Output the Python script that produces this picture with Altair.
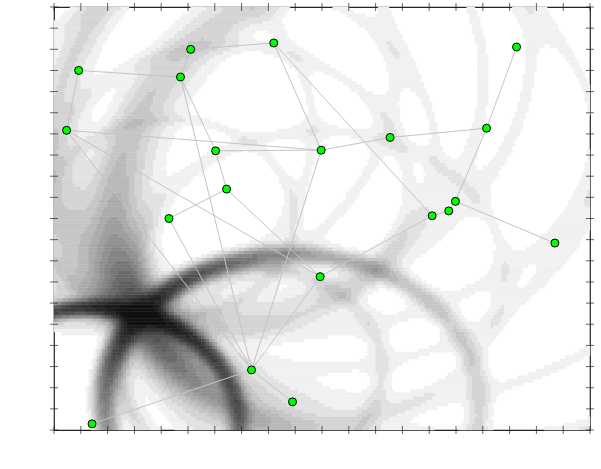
import numpy as np
import pandas as pd
import altair as alt

# ---- data ----
agent_x = [-9.08, -9.53, -5.28, -4.90, -1.80, 7.26, -3.97, -0.03, 2.54, 6.14,
           -3.56, -5.71, 4.11, 4.73, 4.98, 8.69, -0.07, -2.63, -1.10, -8.58]
agent_y = [7.00, 4.17, 6.69, 8.00, 8.30, 8.11, 3.20, 3.23, 3.83, 4.27,
           1.39, 0.00, 0.13, 0.36, 0.81, -1.16, -2.75, -7.16, -8.67, -9.71]
# rings seen in the background: radius, strength and width of each agent's ring
ring_radius = [11.8, 9.2, 11.3, 12.7, 13.8, 18.9, 8.2, 10.3, 12.5, 15.6,
               6.8, 4.7, 11.8, 12.5, 12.9, 15.8, 6.9, 4.9, 7.0, 5.5]
ring_dark = [0, 0, 0, 0, 0, 0, 0, 0, 0, 0.15,
             0.08, 0.08, 0.15, 0.15, 0.15, 0.15, 0.08, 0.3, 1.5, 2.2]
ring_width = [0.6, 0.6, 0.6, 0.6, 0.6, 0.6, 0.5, 0.5, 0.6, 0.7,
              0.45, 0.35, 0.7, 0.7, 0.7, 0.7, 0.45, 0.35, 0.3, 0.25]
ring_faint = 0.055
source_x = [-6.76]
source_y = [-4.55]
edge_a = [0, 0, 2, 3, 4, 4, 2, 2, 6, 6, 10, 10, 1, 1, 1, 11, 7, 7, 8, 9, 9, 14, 13, 14, 12, 16, 17, 17]
edge_b = [2, 1, 3, 4, 7, 12, 6, 17, 7, 10, 11, 16, 7, 16, 17, 17, 17, 8, 9, 5, 14, 13, 12, 15, 16, 17, 18, 19]
ticks = list(range(-10, 11))
frame_ends = [-10, 10]

# ---- background field built from the rings ----
sx, sy = 0.1, 0.16
cx = -10 + sx / 2 + sx * np.arange(int(round(20 / sx)))
cy = -10 + sy / 2 + sy * np.arange(int(round(20 / sy)))
X, Y = np.meshgrid(cx, cy)
ax_ = np.array(agent_x)[:, None, None]
ay_ = np.array(agent_y)[:, None, None]
r_ = np.array(ring_radius)[:, None, None]
w_ = np.array(ring_dark)[:, None, None]
s_ = np.array(ring_width)[:, None, None]
d = np.hypot(X - ax_, Y - ay_)
z = (d - r_) / s_
near = np.exp(-np.hypot(X - source_x[0], Y - source_y[0]) / 5.0)
f = near * (w_ * np.exp(-z ** 2 / 2)).sum(0)
f = f + ring_faint * np.exp(-((d - r_) / (0.04 * r_)) ** 2 / 2).sum(0)
zc = z / 1.3
f = f + 0.6 * np.exp(-(zc[19] ** 2 + zc[18] ** 2) / 2)
D = 1 - np.exp(-f)
level = np.floor(D * 20) / 20

# merge equal neighbours of each row into one cell
rows = []
for j in range(level.shape[0]):
    row = level[j]
    start = 0
    for i in range(1, len(row) + 1):
        if i == len(row) or row[i] != row[start]:
            if row[start] > 0:
                rows.append((round(cx[start] - sx / 2, 3), round(cx[i - 1] + sx / 2, 3),
                             round(cy[j] - sy / 2, 3), round(cy[j] + sy / 2, 3), float(row[start])))
            start = i
heat = pd.DataFrame(rows, columns=["x0", "x1", "y0", "y1", "level"])

edges = pd.DataFrame({
    "ex": [agent_x[i] for i in edge_a], "ey": [agent_y[i] for i in edge_a],
    "ex2": [agent_x[i] for i in edge_b], "ey2": [agent_y[i] for i in edge_b],
})
pts = pd.DataFrame({
    "px": agent_x + source_x, "py": agent_y + source_y,
    "kind": ["Agent"] * len(agent_x) + ["Source"] * len(source_x),
})
tick_df = pd.DataFrame([(t, e) for t in ticks for e in frame_ends], columns=["t", "e"])

FONT = "Liberation Serif"
xs = alt.Scale(domain=[-10, 10], nice=False, zero=False)
ys = alt.Scale(domain=[-10, 10], nice=False, zero=False)

def mk_axis(orient, title, tpad):
    return alt.Axis(orient=orient, values=ticks, ticks=False, domain=False, grid=False,
                    labelFont=FONT, labelFontSize=12.5, labelColor="black",
                    labelExpr="'' + datum.value", labelPadding=5, labelOverlap=False,
                    title=title, titleFont=FONT, titleFontSize=13.5,
                    titleColor="black", titlePadding=tpad)

gray = alt.Scale(domain=[0, 1], range=["#ffffff", "#000000"])
heat_layer = alt.Chart(heat).mark_rect(strokeWidth=0.5).encode(
    x=alt.X("x0:Q", scale=xs, axis=mk_axis("bottom", "x-position", 4)),
    x2="x1:Q",
    y=alt.Y("y0:Q", scale=ys, axis=mk_axis("left", "y-position", 11)),
    y2="y1:Q",
    fill=alt.Fill("level:Q", scale=gray, legend=None),
    stroke=alt.Stroke("level:Q", scale=gray, legend=None),
)

edge_layer = alt.Chart(edges).mark_rule(color="#c4c4c4", strokeWidth=1).encode(
    x=alt.X("ex:Q", scale=xs, axis=None), y=alt.Y("ey:Q", scale=ys, axis=None),
    x2="ex2:Q", y2="ey2:Q",
)

xtick_layer = alt.Chart(tick_df).mark_tick(orient="vertical", size=8, thickness=1,
                                           color="#222222", clip=True).encode(
    x=alt.X("t:Q", scale=xs, axis=None), y=alt.Y("e:Q", scale=ys, axis=None))
ytick_layer = alt.Chart(tick_df).mark_tick(orient="horizontal", size=8, thickness=1,
                                           color="#222222", clip=True).encode(
    y=alt.Y("t:Q", scale=ys, axis=None), x=alt.X("e:Q", scale=xs, axis=None))

leg = alt.Legend(title=None, orient="none", legendX=385, legendY=354,
                 strokeColor="black", fillColor="white", padding=5,
                 labelFont=FONT, labelFontSize=14, labelColor="black",
                 symbolOffset=10, labelOffset=14, rowPadding=1,
                 symbolSize=90, symbolStrokeColor="black", symbolStrokeWidth=0.8)
dom = ["Agent", "Source"]
is_agent = "datum.kind == 'Agent'"
pt_layer = alt.Chart(pts).mark_point(filled=True, opacity=1).encode(
    x=alt.X("px:Q", scale=xs, axis=None),
    y=alt.Y("py:Q", scale=ys, axis=None),
    color=alt.Color("kind:N", scale=alt.Scale(domain=dom, range=["#00ff00", "#ff0000"]), legend=leg),
    shape=alt.Shape("kind:N", scale=alt.Scale(domain=dom, range=["circle", "star"]), legend=leg),
    size=alt.condition(is_agent, alt.value(64), alt.value(170)),
    stroke=alt.condition(is_agent, alt.value("#000000"), alt.value("#ff0000")),
    strokeWidth=alt.condition(is_agent, alt.value(1), alt.value(0.5)),
)

chart = alt.layer(heat_layer, edge_layer, xtick_layer, ytick_layer, pt_layer).properties(
    width=536, height=423,
    autosize=alt.AutoSizeParams(type="none"),
    padding={"left": 54, "top": 7, "right": 11, "bottom": 39},
    background="white",
).configure_view(stroke="#222222", strokeWidth=1.2)

chart.save("out.html", embed_options={"renderer": "svg", "actions": False})
